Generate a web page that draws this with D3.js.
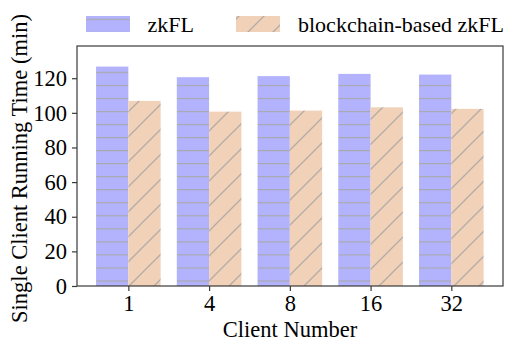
<!DOCTYPE html>
<html>
<head>
<meta charset="utf-8">
<script src="https://cdn.jsdelivr.net/npm/d3@7"></script>
<style>
  body { margin: 0; background: #fff; }
  svg text { font-family: "Liberation Serif", "DejaVu Serif", serif; fill: #000; }
</style>
</head>
<body>
<svg id="chart" width="518" height="350"></svg>
<script>
var clients = ["1", "4", "8", "16", "32"];
var zkfl = [126.7, 120.6, 121.2, 122.5, 122.1];
var chainZkfl = [106.9, 100.7, 101.3, 103.2, 102.3];
var seriesNames = ["zkFL", "blockchain-based zkFL"];
var yTicks = [0, 20, 40, 60, 80, 100, 120];

var svg = d3.select('#chart');
var margin = {left: 77, right: 15, top: 46, bottom: 64};
var W = 518, H = 350;
var x = d3.scaleLinear().domain([-0.636, clients.length - 1 + 0.64]).range([margin.left, W - margin.right]);
var y = d3.scaleLinear().domain([0, 138.6]).range([H - margin.bottom, margin.top]);
var barW = 0.4;
var blue = '#b3b3fd', orange = '#f1d2b8';

var defs = svg.append('defs');
var hatchH = function(id, dy){
  var p = defs.append('pattern').attr('id', id).attr('patternUnits', 'userSpaceOnUse')
    .attr('width', 13).attr('height', 13.04).attr('patternTransform', 'translate(0,' + dy + ')');
  p.append('rect').attr('width', 13).attr('height', 13.04).attr('fill', blue);
  p.append('line').attr('x1', 0).attr('x2', 13).attr('y1', 0.5).attr('y2', 0.5)
    .attr('stroke', '#a9a9ac').attr('stroke-width', 1.3);
};
var hatchD = function(id, dx){
  var p = defs.append('pattern').attr('id', id).attr('patternUnits', 'userSpaceOnUse')
    .attr('width', 25).attr('height', 25).attr('patternTransform', 'translate(' + dx + ',0)');
  p.append('rect').attr('width', 25).attr('height', 25).attr('fill', orange);
  p.append('path').attr('d', 'M0,25 L25,0 M-5,5 L5,-5 M20,30 L30,20')
    .attr('stroke', '#b2aba6').attr('stroke-width', 1.3);
};
hatchH('hatchH', 6.6);
hatchD('hatchD', 15);
hatchH('legH', 18.8);
hatchD('legD', 5);

var fills = ['url(#hatchH)', 'url(#hatchD)'];
var legFills = ['url(#legH)', 'url(#legD)'];
var data = [zkfl, chainZkfl];

data.forEach(function(vals, s){
  svg.append('g').selectAll('rect').data(vals).enter().append('rect')
    .attr('x', function(d, i){ return x(i - barW + s * barW); })
    .attr('width', function(){ return x(barW) - x(0); })
    .attr('y', function(d){ return y(d); })
    .attr('height', function(d){ return y(0) - y(d); })
    .attr('fill', fills[s]);
});

// frame
svg.append('rect').attr('x', x.range()[0]).attr('y', y.range()[1])
  .attr('width', x.range()[1] - x.range()[0]).attr('height', y.range()[0] - y.range()[1])
  .attr('fill', 'none').attr('stroke', '#3a3a3a').attr('stroke-width', 1.2);

var xAxis = d3.axisBottom(x).tickValues(d3.range(clients.length))
  .tickFormat(function(d){ return clients[d]; }).tickSize(5).tickPadding(4.5);
var gx = svg.append('g').attr('transform', 'translate(0,' + y.range()[0] + ')').call(xAxis);
var yAxis = d3.axisLeft(y).tickValues(yTicks).tickSize(5).tickPadding(5);
var gy = svg.append('g').attr('transform', 'translate(' + x.range()[0] + ',0)').call(yAxis);
[gx, gy].forEach(function(g){
  g.select('.domain').remove();
  g.selectAll('line').attr('stroke', '#3a3a3a').attr('stroke-width', 1.2);
  g.selectAll('text').style('font-size', '22.5px').attr('fill', '#000');
});

svg.append('text').attr('x', (x.range()[0] + x.range()[1]) / 2).attr('y', 337)
  .attr('text-anchor', 'middle').style('font-size', '22.5px').text('Client Number');
svg.append('text').attr('transform', 'translate(26.5,168.5) rotate(-90)')
  .attr('text-anchor', 'middle').style('font-size', '22.5px').text('Single Client Running Time (min)');

// legend
var legX = [86, 236], legTx = [147.5, 298];
seriesNames.forEach(function(n, i){
  svg.append('rect').attr('x', legX[i]).attr('y', 16).attr('width', 44).attr('height', 16)
    .attr('fill', legFills[i]);
  svg.append('text').attr('x', legTx[i]).attr('y', 32).style('font-size', '22px').text(n);
});
</script>
</body>
</html>
